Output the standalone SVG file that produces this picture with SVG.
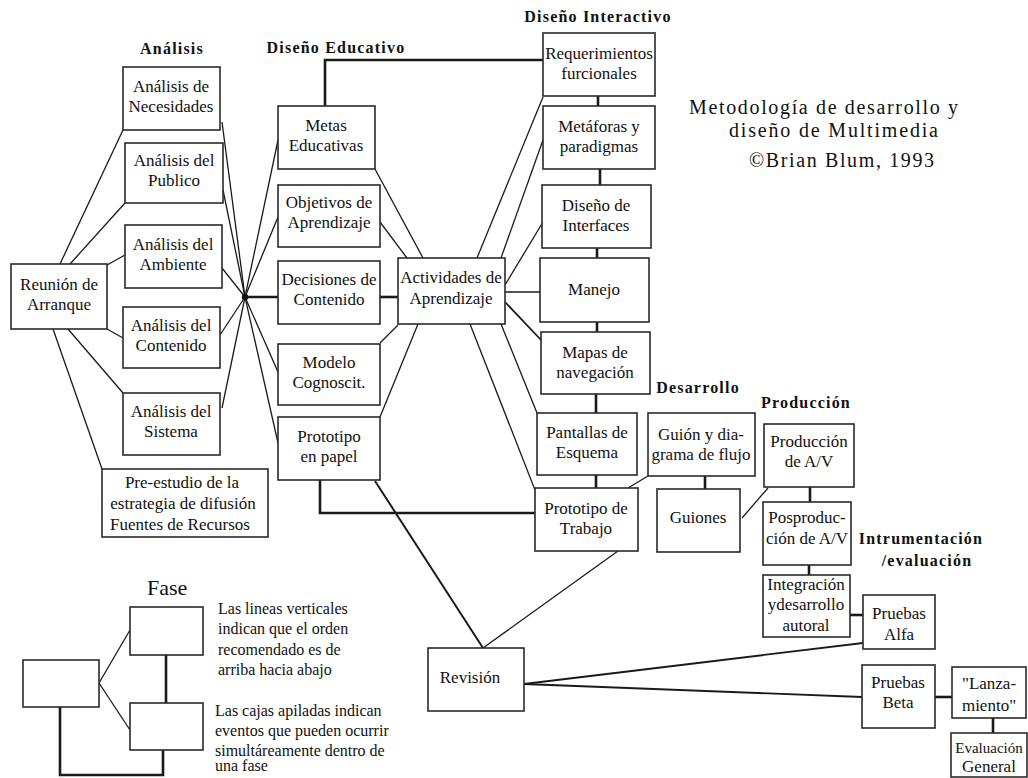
<svg xmlns="http://www.w3.org/2000/svg" width="1028" height="778" viewBox="0 0 1028 778">
<style>
.bx{fill:#fff;stroke:#2a2a2a;stroke-width:1.6}
.t{font-family:"Liberation Serif","Times New Roman",serif;font-size:17px;fill:#111;text-anchor:middle}
.h{font-family:"Liberation Serif","Times New Roman",serif;font-size:16px;font-weight:bold;letter-spacing:1.2px;fill:#111;text-anchor:middle}
.lg{font-family:"Liberation Serif","Times New Roman",serif;font-size:16px;fill:#111}
.ttl{font-family:"Liberation Serif","Times New Roman",serif;font-size:20px;fill:#111}
.c{stroke:#1a1a1a;stroke-width:1.3;fill:none}
.k{stroke:#1a1a1a;stroke-width:2.6;fill:none}
</style>
<rect width="1028" height="778" fill="#fff"/>

<g id="connectors">
  <line class="c" x1="60" y1="264" x2="123" y2="130"/>
  <line class="c" x1="70" y1="264" x2="125" y2="203"/>
  <line class="c" x1="107" y1="265" x2="125" y2="255"/>
  <line class="c" x1="107" y1="329" x2="123" y2="338"/>
  <line class="c" x1="68" y1="329" x2="123" y2="393"/>
  <line class="c" x1="53" y1="329" x2="102" y2="469"/>
  <line class="c" x1="245" y1="297" x2="222" y2="122"/>
  <line class="c" x1="245" y1="297" x2="223" y2="190"/>
  <line class="c" x1="245" y1="297" x2="222" y2="268"/>
  <line class="c" x1="245" y1="297" x2="220" y2="335"/>
  <line class="c" x1="245" y1="297" x2="222" y2="408"/>
  <line class="c" x1="245" y1="297" x2="278" y2="140"/>
  <line class="c" x1="245" y1="297" x2="278" y2="217"/>
  <line class="k" x1="245" y1="297" x2="278" y2="297"/>
  <line class="c" x1="245" y1="297" x2="278" y2="372"/>
  <line class="c" x1="245" y1="297" x2="278" y2="443"/>
  <circle cx="245" cy="297" r="3.2" fill="#111"/>
  <line class="c" x1="375" y1="169" x2="423" y2="258"/>
  <line class="c" x1="380" y1="222" x2="407" y2="258"/>
  <line class="k" x1="380" y1="297" x2="398" y2="297"/>
  <line class="c" x1="380" y1="343" x2="398" y2="325"/>
  <line class="c" x1="380" y1="417" x2="418" y2="324"/>
  <path class="k" d="M325,106 V60 H543"/>
  <path class="k" d="M320,480 V513 H535"/>
  <line class="c" x1="477" y1="258" x2="543" y2="97"/>
  <line class="c" x1="501" y1="258" x2="543" y2="140"/>
  <line class="c" x1="505" y1="285" x2="543" y2="222"/>
  <line class="c" x1="505" y1="292" x2="540" y2="292"/>
  <line class="c" x1="505" y1="302" x2="542" y2="341" style="stroke-width:1.8"/>
  <line class="c" x1="501" y1="324" x2="537" y2="413"/>
  <line class="c" x1="470" y1="324" x2="535" y2="490"/>
  <line class="k" x1="598" y1="96" x2="598" y2="106"/>
  <line class="k" x1="600" y1="169" x2="600" y2="185"/>
  <line class="k" x1="597" y1="248" x2="597" y2="258"/>
  <line class="k" x1="597" y1="322" x2="597" y2="332"/>
  <line class="k" x1="596" y1="394" x2="596" y2="413"/>
  <line class="k" x1="596" y1="475" x2="596" y2="488"/>
  <line class="k" x1="705" y1="476" x2="705" y2="489"/>
  <line class="k" x1="810" y1="487" x2="810" y2="502"/>
  <line class="k" x1="809" y1="565" x2="809" y2="575"/>
  <line class="k" x1="850" y1="615" x2="863" y2="615"/>
  <line class="k" x1="935" y1="697" x2="952" y2="697"/>
  <line class="k" x1="993" y1="718" x2="993" y2="733"/>
  <line class="c" x1="648" y1="476" x2="628" y2="488"/>
  <line class="c" x1="742" y1="518" x2="768" y2="488"/>
  <line class="c" x1="375" y1="481" x2="483" y2="648" style="stroke-width:2"/>
  <line class="c" x1="618" y1="551" x2="483" y2="648"/>
  <line class="c" x1="524" y1="684" x2="863" y2="643" style="stroke-width:1.8"/>
  <line class="c" x1="524" y1="684" x2="862" y2="697" style="stroke-width:1.8"/>
  <line class="c" x1="99" y1="683" x2="130" y2="630"/>
  <line class="c" x1="99" y1="683" x2="130" y2="730"/>
  <line class="k" x1="166" y1="655" x2="166" y2="703"/>
  <path class="k" d="M60,707 V775 H163 V750"/>
</g>

<g id="labels">
  <text class="h" x="172" y="54">Análisis</text>
  <text class="h" x="336" y="53">Diseño Educativo</text>
  <text class="h" x="598" y="22">Diseño Interactivo</text>
  <text class="h" x="698" y="393">Desarrollo</text>
  <text class="h" x="806" y="408">Producción</text>
  <text class="h" x="921" y="544">Intrumentación</text>
  <text class="h" x="927" y="566">/evaluación</text>
  <text class="ttl" x="689" y="114" textLength="269" lengthAdjust="spacing">Metodología de desarrollo y</text>
  <text class="ttl" x="729" y="137" textLength="209" lengthAdjust="spacing">diseño de Multimedia</text>
  <text class="ttl" x="749" y="167" textLength="185" lengthAdjust="spacing">©Brian Blum, 1993</text>
</g>

<g id="n-necesidades"><rect class="bx" x="123" y="67" width="97" height="63"/><text class="t" x="171" y="92">Análisis de</text><text class="t" x="171" y="112">Necesidades</text></g>
<g id="n-publico"><rect class="bx" x="125" y="143" width="98" height="60"/><text class="t" x="174" y="166">Análisis del</text><text class="t" x="174" y="186">Publico</text></g>
<g id="n-ambiente"><rect class="bx" x="125" y="225" width="97" height="63"/><text class="t" x="173" y="250">Análisis del</text><text class="t" x="173" y="270">Ambiente</text></g>
<g id="n-contenido"><rect class="bx" x="123" y="307" width="97" height="61"/><text class="t" x="171" y="331">Análisis del</text><text class="t" x="171" y="351">Contenido</text></g>
<g id="n-sistema"><rect class="bx" x="123" y="393" width="97" height="62"/><text class="t" x="171" y="417">Análisis del</text><text class="t" x="171" y="437">Sistema</text></g>
<g id="n-reunion"><rect class="bx" x="11" y="264" width="96" height="65"/><text class="t" x="59" y="290">Reunión de</text><text class="t" x="59" y="310">Arranque</text></g>
<g id="n-preestudio"><rect class="bx" x="102" y="469" width="166" height="68"/><text class="t" x="182" y="488">Pre-estudio de la</text><text class="t" x="183" y="509">estrategia de difusión</text><text class="t" x="180" y="530">Fuentes de Recursos</text></g>

<g id="n-metas"><rect class="bx" x="278" y="106" width="97" height="63"/><text class="t" x="326" y="131">Metas</text><text class="t" x="326" y="151">Educativas</text></g>
<g id="n-objetivos"><rect class="bx" x="278" y="185" width="102" height="62"/><text class="t" x="329" y="208">Objetivos de</text><text class="t" x="329" y="228">Aprendizaje</text></g>
<g id="n-decisiones"><rect class="bx" x="278" y="261" width="102" height="63"/><text class="t" x="329" y="285">Decisiones de</text><text class="t" x="329" y="305">Contenido</text></g>
<g id="n-modelo"><rect class="bx" x="278" y="344" width="102" height="61"/><text class="t" x="329" y="368">Modelo</text><text class="t" x="329" y="388">Cognoscit.</text></g>
<g id="n-protopapel"><rect class="bx" x="278" y="417" width="102" height="63"/><text class="t" x="329" y="442">Prototipo</text><text class="t" x="329" y="462">en papel</text></g>
<g id="n-actividades"><rect class="bx" x="398" y="258" width="107" height="66"/><text class="t" x="451" y="283">Actividades de</text><text class="t" x="451" y="304">Aprendizaje</text></g>

<g id="n-requerimientos"><rect class="bx" x="543" y="33" width="112" height="63"/><text class="t" x="599" y="59">Requerimientos</text><text class="t" x="599" y="79">furcionales</text></g>
<g id="n-metaforas"><rect class="bx" x="543" y="106" width="112" height="63"/><text class="t" x="599" y="132">Metáforas y</text><text class="t" x="599" y="152">paradigmas</text></g>
<g id="n-interfaces"><rect class="bx" x="542" y="185" width="109" height="63"/><text class="t" x="596" y="211">Diseño de</text><text class="t" x="596" y="231">Interfaces</text></g>
<g id="n-manejo"><rect class="bx" x="540" y="258" width="109" height="64"/><text class="t" x="594" y="295">Manejo</text></g>
<g id="n-mapas"><rect class="bx" x="541" y="332" width="109" height="62"/><text class="t" x="595" y="358">Mapas de</text><text class="t" x="595" y="378">navegación</text></g>
<g id="n-pantallas"><rect class="bx" x="537" y="413" width="100" height="62"/><text class="t" x="587" y="438">Pantallas de</text><text class="t" x="587" y="458">Esquema</text></g>
<g id="n-prototrabajo"><rect class="bx" x="535" y="488" width="103" height="63"/><text class="t" x="586" y="514">Prototipo de</text><text class="t" x="586" y="534">Trabajo</text></g>

<g id="n-guion"><rect class="bx" x="648" y="413" width="107" height="63"/><text class="t" x="701" y="440">Guión y dia-</text><text class="t" x="701" y="460">grama de flujo</text></g>
<g id="n-guiones"><rect class="bx" x="657" y="489" width="83" height="63"/><text class="t" x="698" y="523">Guiones</text></g>

<g id="n-produccion"><rect class="bx" x="764" y="424" width="90" height="63"/><text class="t" x="809" y="447">Producción</text><text class="t" x="809" y="467">de A/V</text></g>
<g id="n-posproduccion"><rect class="bx" x="763" y="502" width="88" height="63"/><text class="t" x="807" y="523">Posproduc-</text><text class="t" x="807" y="544">ción de A/V</text></g>
<g id="n-integracion"><rect class="bx" x="763" y="575" width="87" height="62"/><text class="t" x="806" y="590">Integración</text><text class="t" x="806" y="610">ydesarrollo</text><text class="t" x="806" y="631">autoral</text></g>

<g id="n-alfa"><rect class="bx" x="863" y="595" width="72" height="54"/><text class="t" x="899" y="619">Pruebas</text><text class="t" x="899" y="640">Alfa</text></g>
<g id="n-beta"><rect class="bx" x="862" y="665" width="73" height="63"/><text class="t" x="898" y="688">Pruebas</text><text class="t" x="898" y="708">Beta</text></g>
<g id="n-lanzamiento"><rect class="bx" x="952" y="667" width="74" height="51"/><text class="t" x="989" y="689">"Lanza-</text><text class="t" x="989" y="711">miento"</text></g>
<g id="n-evaluacion"><rect class="bx" x="951" y="733" width="76" height="44"/><text class="t" x="989" y="753" style="font-size:15px">Evaluación</text><text class="t" x="989" y="772">General</text></g>

<g id="n-revision"><rect class="bx" x="428" y="648" width="96" height="63"/><text class="t" x="470" y="683">Revisión</text></g>

<g id="legend">
  <text class="lg" x="147" y="595" style="font-size:22px">Fase</text>
  <rect class="bx" x="130" y="607" width="73" height="48"/>
  <rect class="bx" x="23" y="660" width="76" height="47"/>
  <rect class="bx" x="130" y="703" width="73" height="47"/>
  <text class="lg" x="218" y="614">Las lineas verticales</text>
  <text class="lg" x="218" y="634">indican que el orden</text>
  <text class="lg" x="218" y="655">recomendado es de</text>
  <text class="lg" x="218" y="675">arriba hacia abajo</text>
  <text class="lg" x="215" y="716">Las cajas apiladas indican</text>
  <text class="lg" x="215" y="736">eventos que pueden ocurrir</text>
  <text class="lg" x="215" y="756">simultáreamente dentro de</text>
  <text class="lg" x="215" y="771">una fase</text>
</g>
</svg>
